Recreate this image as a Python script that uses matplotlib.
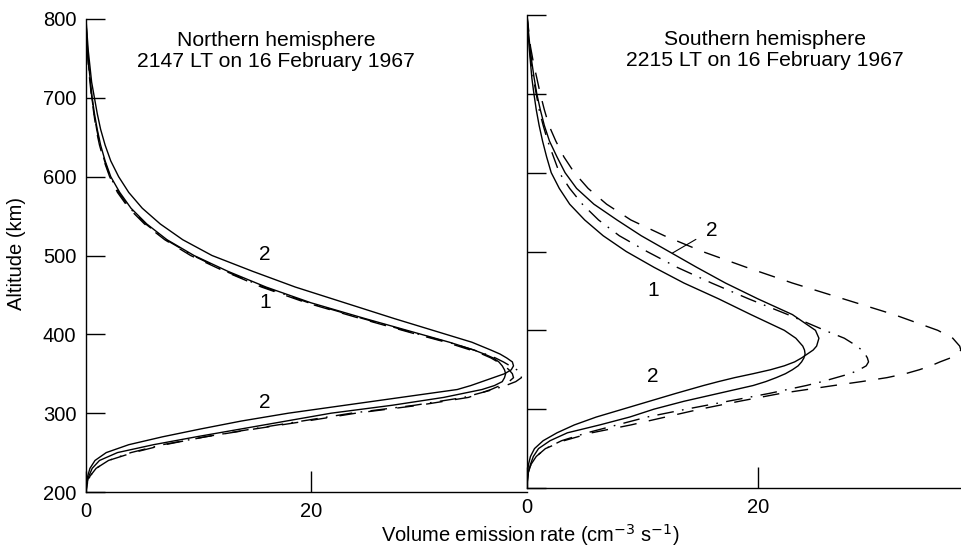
import matplotlib.pyplot as plt

plt.rcParams['font.family'] = ['Liberation Sans', 'DejaVu Sans']

# altitude grid shared by all profiles (km)
altitude = [800, 780, 760, 740, 720, 700, 680, 660, 640, 620,
            600, 580, 560, 540, 520, 500, 480, 460, 440, 420,
            400, 390, 380, 375, 370, 365, 360, 355, 350, 345,
            340, 335, 330, 320, 310, 300, 290, 280, 270, 260,
            250, 240, 230, 220, 210, 200]

# Northern hemisphere, volume emission rate (cm^-3 s^-1)
north_curve1 = [0.0, 0.05, 0.15, 0.25, 0.4, 0.55, 0.75, 1.0, 1.3, 1.7,
                2.2, 3.0, 4.0, 5.4, 7.2, 9.6, 12.6, 16.0, 20.0, 24.8,
                29.8, 32.3, 34.5, 35.4, 36.2, 36.7, 37.0, 37.2, 37.3, 37.2,
                37.0, 36.3, 35.2, 31.8, 27.2, 21.8, 17.8, 13.8, 9.8, 6.0,
                2.8, 1.2, 0.55, 0.25, 0.08, 0.0]
north_curve2 = [0.0, 0.1, 0.2, 0.35, 0.5, 0.75, 1.0, 1.3, 1.7, 2.2,
                2.9, 3.8, 5.0, 6.6, 8.6, 11.2, 14.8, 18.6, 23.0, 27.4,
                32.0, 34.3, 36.0, 36.8, 37.4, 37.9, 38.0, 37.8, 37.2, 36.2,
                35.2, 34.2, 33.0, 28.0, 23.0, 18.0, 13.8, 10.2, 6.8, 3.8,
                1.8, 0.8, 0.35, 0.15, 0.05, 0.0]
north_dashed = [0.0, 0.05, 0.12, 0.22, 0.35, 0.5, 0.7, 0.9, 1.2, 1.6,
                2.1, 2.8, 3.8, 5.2, 7.0, 9.3, 12.3, 15.6, 19.6, 24.4,
                29.4, 32.0, 34.2, 35.2, 36.0, 36.6, 37.2, 37.6, 37.9, 38.0,
                37.6, 36.8, 36.0, 34.0, 29.6, 24.0, 19.6, 15.0, 10.6, 7.0,
                4.2, 2.0, 0.9, 0.35, 0.1, 0.0]
north_dashdot = [0.0, 0.05, 0.14, 0.24, 0.38, 0.52, 0.72, 0.95, 1.25, 1.65,
                 2.15, 2.9, 3.9, 5.3, 7.1, 9.5, 12.4, 15.8, 19.8, 24.6,
                 29.6, 32.2, 34.5, 35.5, 36.4, 37.1, 37.7, 38.3, 38.7, 38.7,
                 38.2, 37.3, 36.2, 33.6, 29.2, 23.6, 19.2, 14.8, 10.6, 6.8,
                 4.0, 2.0, 0.9, 0.35, 0.1, 0.0]

# Southern hemisphere
south_curve1 = [0.0, 0.08, 0.18, 0.3, 0.42, 0.6, 0.8, 1.05, 1.35, 1.7,
                2.1, 2.8, 3.7, 5.0, 6.6, 8.6, 11.0, 13.6, 16.6, 19.4,
                22.3, 23.3, 23.9, 24.05, 24.1, 24.0, 23.8, 23.5, 23.0, 22.4,
                21.6, 20.7, 19.6, 16.6, 13.6, 11.0, 8.9, 6.3, 3.5, 2.0,
                1.0, 0.55, 0.3, 0.12, 0.04, 0.0]
south_curve2 = [0.0, 0.12, 0.25, 0.42, 0.62, 0.85, 1.15, 1.5, 1.95, 2.6,
                3.3, 4.3, 5.8, 7.8, 9.9, 12.3, 14.7, 17.2, 20.0, 23.0,
                25.0, 25.3, 25.1, 24.8, 24.3, 23.8, 23.2, 22.3, 21.1, 19.6,
                18.0, 16.6, 15.3, 12.9, 10.6, 8.3, 6.0, 4.1, 2.6, 1.4,
                0.65, 0.3, 0.13, 0.05, 0.02, 0.0]
south_dashed = [0.0, 0.15, 0.3, 0.55, 0.85, 1.15, 1.5, 1.9, 2.5, 3.2,
                4.1, 5.3, 6.9, 9.0, 11.9, 15.2, 19.0, 23.0, 27.4, 31.8,
                35.6, 36.9, 37.5, 37.6, 37.3, 36.7, 35.8, 35.0, 34.0, 32.8,
                31.2, 29.0, 26.6, 22.0, 18.4, 15.0, 12.0, 9.0, 5.6, 3.2,
                1.6, 0.8, 0.35, 0.12, 0.04, 0.0]
south_dashdot = [0.0, 0.08, 0.2, 0.35, 0.55, 0.8, 1.05, 1.4, 1.8, 2.3,
                 2.8, 3.7, 4.8, 6.2, 8.0, 10.4, 13.0, 16.0, 19.2, 22.6,
                 25.8, 27.5, 28.6, 29.0, 29.3, 29.5, 29.6, 29.4, 28.8, 28.0,
                 26.8, 25.6, 24.2, 21.0, 17.4, 13.8, 10.4, 7.8, 5.2, 3.0,
                 1.6, 0.8, 0.35, 0.12, 0.04, 0.0]

y_ticks = [200, 300, 400, 500, 600, 700, 800]
x_ticks = [0, 20]

SOLID = '-'
DASHED = (0, (12, 9))
DASHDOT = (0, (12, 6, 1.2, 6))


def setup_axes(ax, xmax, show_ylabels):
    ax.set_xlim(0, xmax)
    ax.set_ylim(200, 800)
    for side in ['top', 'right']:
        ax.spines[side].set_visible(False)
    for side in ['left', 'bottom']:
        ax.spines[side].set_linewidth(1.0)
    ax.set_yticks(y_ticks)
    ax.set_xticks(x_ticks)
    ax.tick_params(direction='in', width=1.0, labelsize=14.5, pad=7)
    ax.tick_params(axis='y', length=14, labelleft=show_ylabels)
    ax.tick_params(axis='x', length=15)
    ax.patch.set_alpha(0)


def draw_profiles(ax, curves):
    for values, style in curves:
        ax.plot(values, altitude, color='black', lw=1.0, linestyle=style)


fig = plt.figure(figsize=(9.62, 5.52), dpi=100)
ax_n = fig.add_axes([86 / 962, 60 / 552, 441 / 962, 473 / 552])
ax_s = fig.add_axes([527 / 962, 64 / 552, 435 / 962, 473 / 552])

setup_axes(ax_n, 39.2, True)
setup_axes(ax_s, 37.7, False)

draw_profiles(ax_n, [(north_curve1, SOLID), (north_curve2, SOLID),
                     (north_dashed, DASHED), (north_dashdot, DASHDOT)])
draw_profiles(ax_s, [(south_curve1, SOLID), (south_curve2, SOLID),
                     (south_dashed, DASHED), (south_dashdot, DASHDOT)])

# curve numbers
ax_n.text(15.9, 501, '2', ha='center', va='center', fontsize=15)
ax_n.text(15.9, 441, '1', ha='center', va='center', fontsize=15)
ax_n.text(15.9, 313, '2', ha='center', va='center', fontsize=15)
ax_s.text(10.9, 451, '1', ha='center', va='center', fontsize=15)
ax_s.annotate('2', xy=(12.6, 498), xytext=(16.0, 527), ha='center', va='center',
              fontsize=15, arrowprops=dict(arrowstyle='-', lw=0.8, color='black',
                                           shrinkA=6, shrinkB=0))
ax_s.text(10.9, 341, '2', ha='center', va='center', fontsize=15)

# titles of the two panels
fig.text(276 / 962, 1 - 51 / 552, 'Northern hemisphere\n2147 LT on 16 February 1967',
         ha='center', va='center', fontsize=15.2, linespacing=1.12)
fig.text(765 / 962, 1 - 50 / 552, 'Southern hemisphere\n2215 LT on 16 February 1967',
         ha='center', va='center', fontsize=15.2, linespacing=1.12)

fig.text(17 / 962, 1 - 254 / 552, 'Altitude (km)', rotation=90,
         ha='center', va='center', fontsize=14.5)
fig.text(530 / 962, 1 - 535 / 552, 'Volume emission rate (cm$^{-3}$ s$^{-1}$)',
         ha='center', va='center', fontsize=14.5)

fig.savefig('out.png', dpi=100)
plt.close(fig)
